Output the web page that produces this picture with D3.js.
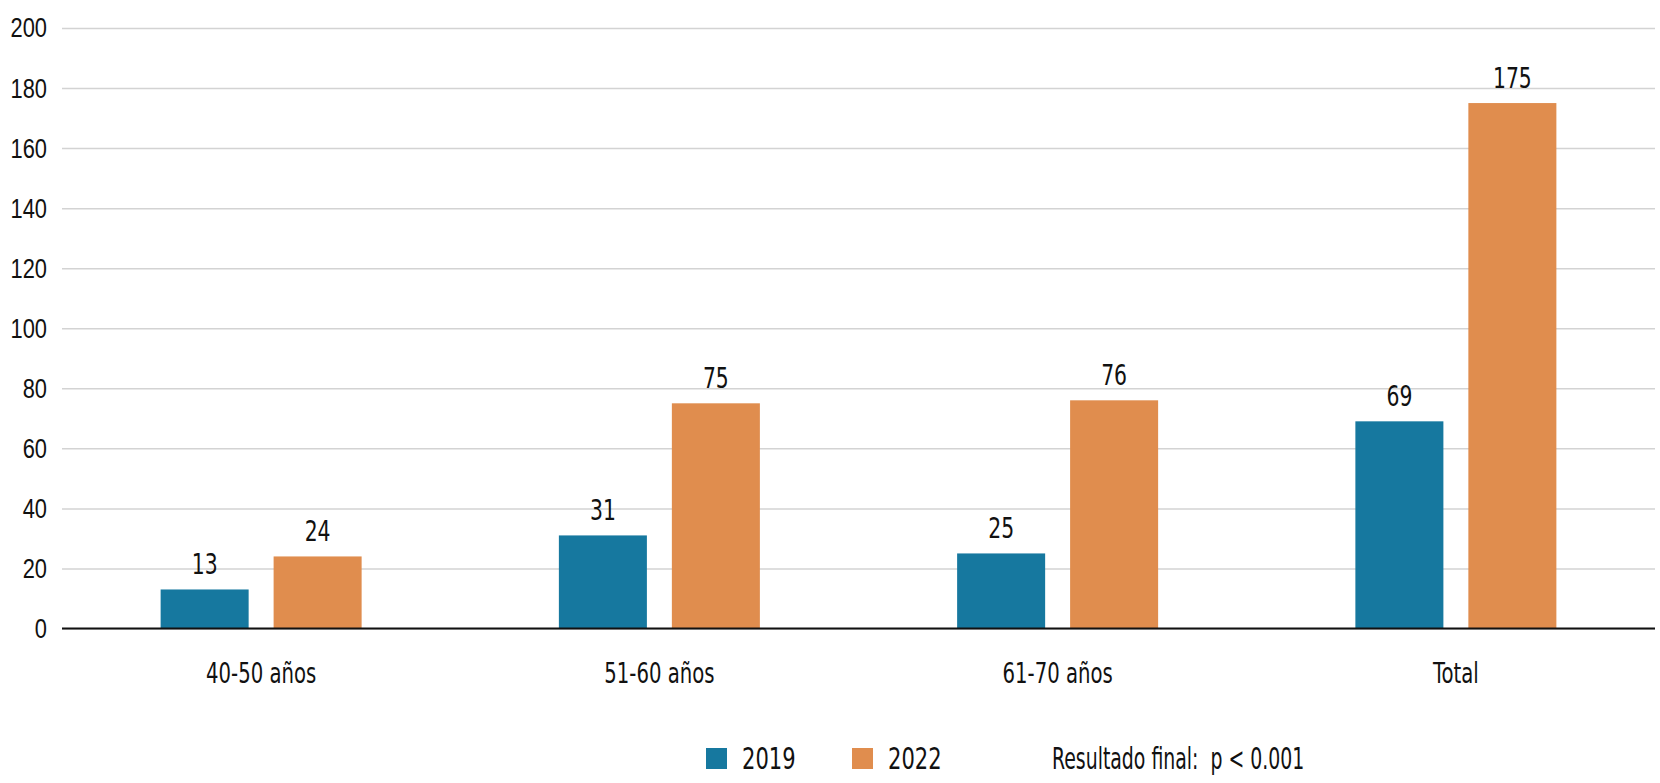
<!DOCTYPE html>
<html>
<head>
<meta charset="utf-8">
<script src="https://cdn.jsdelivr.net/npm/d3@7"></script>
<style>
  body { margin: 0; background: #fff; }
  svg { display: block; font-family: "Liberation Sans Narrow", "DejaVu Sans Condensed", sans-serif; }
  .tick line { stroke: #d3d3d3; stroke-width: 1.5; }
  .tick text { font-size: 28px; fill: #111; }
</style>
</head>
<body>
<script>
// Width and height of chart
const width = 1660;
const height = 783;

// data
const categories = ["40-50 años", "51-60 años", "61-70 años", "Total"];
const years = ["2019", "2022"];
const values2019 = [13, 31, 25, 69];
const values2022 = [24, 75, 76, 175];
const yTicks = [0, 20, 40, 60, 80, 100, 120, 140, 160, 180, 200];
const note = "Resultado final:  p < 0.001";

const colors = {"2019": "#16789f", "2022": "#e08d4e"};

const margin = {left: 62, right: 5, top: 28, bottom: 154.5};

const x0 = d3.scaleBand()
    .domain(categories)
    .range([margin.left, width - margin.right]);

// two bars per group, 88px wide with a 25px gap
const x1 = d3.scaleBand()
    .domain(years)
    .range([-100.5, 100.5])
    .paddingInner(0.221);

const y = d3.scaleLinear()
    .domain([0, 200])
    .range([height - margin.bottom, margin.top]);

const svg = d3.select("body")
    .append("svg")
    .attr("width", width)
    .attr("height", height)
    .attr("viewBox", [0, 0, width, height]);

// gridlines + y labels
svg.append("g")
    .attr("transform", `translate(${margin.left},0)`)
    .call(d3.axisLeft(y)
        .tickValues(yTicks)
        .tickSize(-(width - margin.left - margin.right))
        .tickPadding(15))
    .call(g => g.select(".domain").remove());

const rows = categories.map((c, i) => ({
    cat: c,
    bars: [{year: "2019", v: values2019[i]}, {year: "2022", v: values2022[i]}]
}));

const groups = svg.append("g")
    .selectAll("g")
    .data(rows)
    .join("g")
    .attr("transform", d => `translate(${x0(d.cat) + x0.bandwidth() / 2},0)`);

groups.selectAll("rect")
    .data(d => d.bars)
    .join("rect")
    .attr("x", d => x1(d.year))
    .attr("y", d => y(d.v))
    .attr("width", x1.bandwidth())
    .attr("height", d => y(0) - y(d.v))
    .attr("fill", d => colors[d.year]);

groups.selectAll("text.val")
    .data(d => d.bars)
    .join("text")
    .attr("class", "val")
    .attr("x", d => x1(d.year) + x1.bandwidth() / 2)
    .attr("y", d => y(d.v) - 15)
    .attr("text-anchor", "middle")
    .attr("font-size", 29)
    .attr("fill", "#111")
    .text(d => d.v);

// category labels
groups.append("text")
    .attr("y", y(0) + 54)
    .attr("text-anchor", "middle")
    .attr("font-size", 28)
    .attr("fill", "#111")
    .text(d => d.cat);

// zero line
svg.append("line")
    .attr("x1", margin.left)
    .attr("x2", width - margin.right)
    .attr("y1", y(0))
    .attr("y2", y(0))
    .attr("stroke", "#111")
    .attr("stroke-width", 2);

// legend
const legendX = [706, 852];
const legend = svg.append("g")
    .selectAll("g")
    .data(years)
    .join("g")
    .attr("transform", (d, i) => `translate(${legendX[i]},748)`);

legend.append("rect")
    .attr("width", 21)
    .attr("height", 21)
    .attr("fill", d => colors[d]);

legend.append("text")
    .attr("x", 36)
    .attr("y", 21)
    .attr("font-size", 30)
    .attr("fill", "#111")
    .text(d => d);

svg.append("text")
    .attr("class", "note")
    .attr("x", 1052)
    .attr("y", 769)
    .attr("font-size", 30)
    .attr("fill", "#111")
    .attr("xml:space", "preserve")
    .style("white-space", "pre")
    .text(note);

// the original uses a condensed face; squeeze glyphs to get close to it
svg.selectAll("text").each(function() {
    const len = this.getComputedTextLength();
    const f = this.classList.contains("note") ? 0.7 : 0.78;
    d3.select(this)
        .attr("textLength", len * f)
        .attr("lengthAdjust", "spacingAndGlyphs");
});
</script>
</body>
</html>
